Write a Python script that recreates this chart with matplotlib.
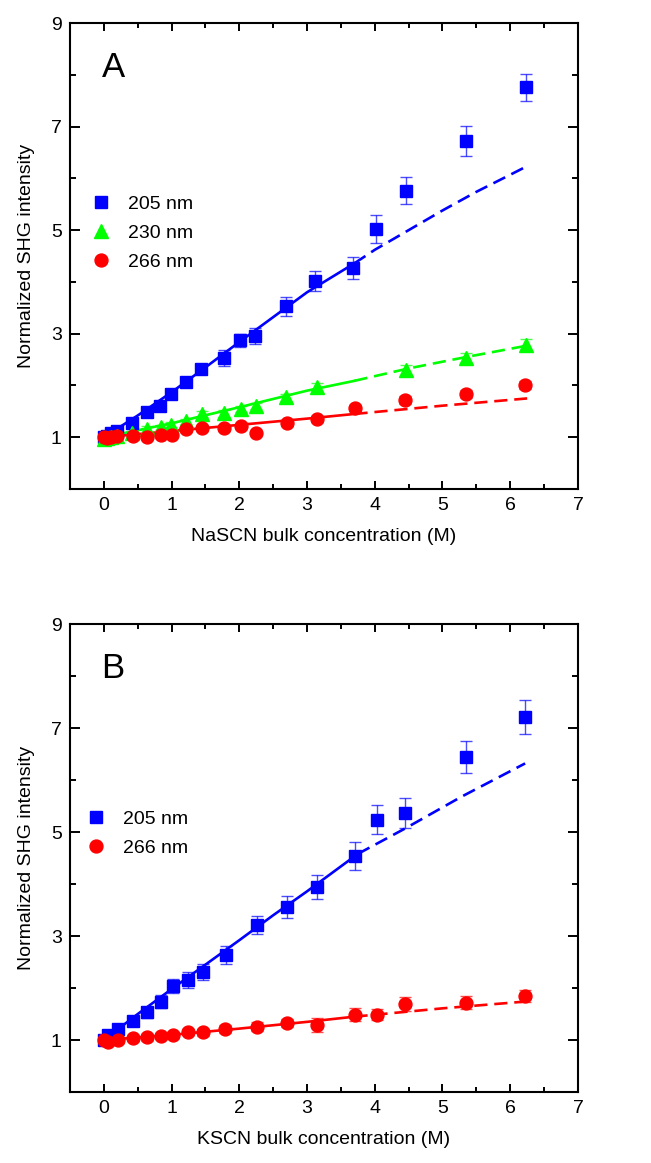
import matplotlib
matplotlib.use('Agg')
import matplotlib.pyplot as plt
from matplotlib.ticker import MultipleLocator, FixedLocator

plt.rcParams['font.family'] = ['Liberation Sans', 'DejaVu Sans']

# ---- Panel A : NaSCN ----
a205_x = [0, 0.05, 0.1, 0.2, 0.42, 0.63, 0.83, 0.99, 1.22, 1.44, 1.78, 2.01, 2.23, 2.69, 3.12, 3.68, 4.02, 4.46, 5.35, 6.24]
a205_y = [1.0, 1.02, 1.08, 1.13, 1.27, 1.48, 1.61, 1.84, 2.06, 2.32, 2.53, 2.87, 2.96, 3.53, 4.02, 4.27, 5.03, 5.76, 6.72, 7.76]
a205_e = [0.04, 0.04, 0.05, 0.05, 0.05, 0.06, 0.06, 0.08, 0.07, 0.08, 0.15, 0.12, 0.15, 0.18, 0.20, 0.22, 0.27, 0.26, 0.29, 0.26]

a230_x = [0, 0.05, 0.1, 0.2, 0.42, 0.63, 0.84, 0.99, 1.22, 1.45, 1.78, 2.02, 2.25, 2.69, 3.14, 4.46, 5.35, 6.23]
a230_y = [0.97, 0.98, 1.0, 1.02, 1.08, 1.16, 1.19, 1.24, 1.31, 1.45, 1.46, 1.55, 1.61, 1.77, 1.97, 2.29, 2.53, 2.79]
a230_e = [0.08, 0.06, 0.06, 0.05, 0.05, 0.05, 0.05, 0.05, 0.05, 0.05, 0.06, 0.06, 0.06, 0.07, 0.07, 0.10, 0.10, 0.10]

a266_x = [0, 0.05, 0.1, 0.2, 0.43, 0.63, 0.84, 1.0, 1.22, 1.45, 1.78, 2.02, 2.25, 2.71, 3.14, 3.71, 4.45, 5.35, 6.22]
a266_y = [1.0, 0.99, 1.0, 1.02, 1.03, 1.0, 1.04, 1.05, 1.15, 1.17, 1.17, 1.21, 1.08, 1.27, 1.35, 1.56, 1.72, 1.84, 2.01]
a266_e = [0.03, 0.03, 0.03, 0.03, 0.03, 0.03, 0.03, 0.03, 0.04, 0.04, 0.04, 0.04, 0.04, 0.05, 0.06, 0.06, 0.08, 0.08, 0.07]

# fitted curves: solid part and extrapolated dashed part
a205_fit_x = [0, 0.5, 1, 1.5, 2, 2.5, 3, 3.7]
a205_fit_y = [1.0, 1.42, 1.87, 2.35, 2.84, 3.32, 3.80, 4.36]
a205_ext_x = [3.7, 4.0, 4.5, 5.0, 5.5, 6.0, 6.24]
a205_ext_y = [4.36, 4.62, 5.0, 5.38, 5.74, 6.07, 6.23]

a230_fit_x = [0, 1, 2, 3, 3.7]
a230_fit_y = [1.0, 1.27, 1.58, 1.90, 2.09]
a230_ext_x = [3.7, 4.5, 5.35, 6.25]
a230_ext_y = [2.09, 2.33, 2.55, 2.77]

a266_fit_x = [0, 1, 2, 3, 3.7]
a266_fit_y = [1.0, 1.12, 1.24, 1.36, 1.45]
a266_ext_x = [3.7, 5.0, 6.25]
a266_ext_y = [1.45, 1.61, 1.75]

# ---- Panel B : KSCN ----
b205_x = [0, 0.06, 0.21, 0.43, 0.64, 0.85, 1.02, 1.24, 1.46, 1.80, 2.26, 2.70, 3.14, 3.71, 4.04, 4.45, 5.34, 6.22]
b205_y = [1.0, 1.10, 1.21, 1.37, 1.53, 1.74, 2.04, 2.15, 2.31, 2.63, 3.21, 3.56, 3.95, 4.54, 5.24, 5.36, 6.45, 7.21]
b205_e = [0.06, 0.07, 0.08, 0.10, 0.10, 0.12, 0.13, 0.15, 0.15, 0.17, 0.18, 0.22, 0.23, 0.27, 0.28, 0.29, 0.31, 0.33]

b266_x = [0, 0.06, 0.21, 0.43, 0.64, 0.85, 1.02, 1.24, 1.46, 1.79, 2.26, 2.71, 3.14, 3.71, 4.03, 4.45, 5.34, 6.22]
b266_y = [1.0, 0.97, 1.0, 1.03, 1.05, 1.08, 1.09, 1.15, 1.15, 1.21, 1.26, 1.33, 1.29, 1.49, 1.49, 1.69, 1.72, 1.85]
b266_e = [0.04, 0.05, 0.05, 0.05, 0.06, 0.06, 0.06, 0.06, 0.07, 0.07, 0.08, 0.08, 0.13, 0.12, 0.10, 0.13, 0.13, 0.12]

b205_fit_x = [0, 0.5, 1, 1.5, 2, 2.5, 3, 3.75]
b205_fit_y = [1.0, 1.5, 1.98, 2.45, 2.92, 3.40, 3.86, 4.58]
b205_ext_x = [3.75, 4.45, 5.28, 6.22]
b205_ext_y = [4.58, 5.07, 5.68, 6.32]

b266_fit_x = [0, 1, 2, 3, 3.7]
b266_fit_y = [1.0, 1.10, 1.22, 1.35, 1.45]
b266_ext_x = [3.7, 5.0, 6.22]
b266_ext_y = [1.45, 1.61, 1.74]

BLUE, GREEN, RED = '#0000FF', '#00FF00', '#FF0000'

fig = plt.figure(figsize=(6.51, 11.63), dpi=100)
axA = fig.add_axes([0.1075, 0.5795, 0.7803, 0.4007])
axB = fig.add_axes([0.1075, 0.0610, 0.7803, 0.4024])


def serie(ax, x, y, e, fx, fy, ex, ey, color, marker, ms, label):
    ax.plot(fx, fy, '-', color=color, lw=1.9, zorder=2)
    ax.plot(ex, ey, '--', color=color, lw=1.9, dashes=(5, 2.6), zorder=2)
    ax.errorbar(x, y, yerr=e, fmt='none', ecolor=color, elinewidth=1.0,
                capsize=4.5, capthick=1.0, alpha=0.7, zorder=3)
    ax.plot(x, y, linestyle='none', marker=marker, ms=ms, color=color,
            mec=color, label=label, zorder=4)


serie(axA, a205_x, a205_y, a205_e, a205_fit_x, a205_fit_y, a205_ext_x, a205_ext_y, BLUE, 's', 8.3, '205 nm')
serie(axA, a230_x, a230_y, a230_e, a230_fit_x, a230_fit_y, a230_ext_x, a230_ext_y, GREEN, '^', 9.5, '230 nm')
serie(axA, a266_x, a266_y, a266_e, a266_fit_x, a266_fit_y, a266_ext_x, a266_ext_y, RED, 'o', 9.3, '266 nm')

serie(axB, b205_x, b205_y, b205_e, b205_fit_x, b205_fit_y, b205_ext_x, b205_ext_y, BLUE, 's', 8.3, '205 nm')
serie(axB, b266_x, b266_y, b266_e, b266_fit_x, b266_fit_y, b266_ext_x, b266_ext_y, RED, 'o', 9.3, '266 nm')

for ax, xlab, letra, leg_xy in [(axA, 'NaSCN bulk concentration (M)', 'A', (0.042, 0.630)),
                                (axB, 'KSCN bulk concentration (M)', 'B', (0.032, 0.602))]:
    ax.set_xlim(-0.5, 7)
    ax.set_ylim(0, 9)
    ax.xaxis.set_major_locator(MultipleLocator(1))
    ax.xaxis.set_minor_locator(MultipleLocator(0.5))
    ax.yaxis.set_major_locator(FixedLocator([1, 3, 5, 7, 9]))
    ax.yaxis.set_minor_locator(FixedLocator([2, 4, 6, 8]))
    ax.tick_params(which='both', direction='in', top=True, right=True,
                   width=1.4, labelsize=14)
    ax.tick_params(axis='x', which='major', length=6, pad=6)
    ax.tick_params(axis='x', which='minor', length=3.5)
    ax.tick_params(axis='y', which='major', length=7, pad=6)
    ax.tick_params(axis='y', which='minor', length=4.5)
    for s in ax.spines.values():
        s.set_linewidth(1.5)
    ax.set_xlabel(xlab, fontsize=14, labelpad=10)
    ax.set_ylabel('Normalized SHG intensity', fontsize=14, labelpad=11)
    ax.text(0.085, 0.905, letra, transform=ax.transAxes, fontsize=25,
            ha='center', va='center')
    ax.legend(loc='upper left', bbox_to_anchor=leg_xy, frameon=False,
              fontsize=14, handlelength=1.0, handletextpad=0.9,
              labelspacing=0.58, borderpad=0, borderaxespad=0)

plt.savefig('out.png', dpi=100)
